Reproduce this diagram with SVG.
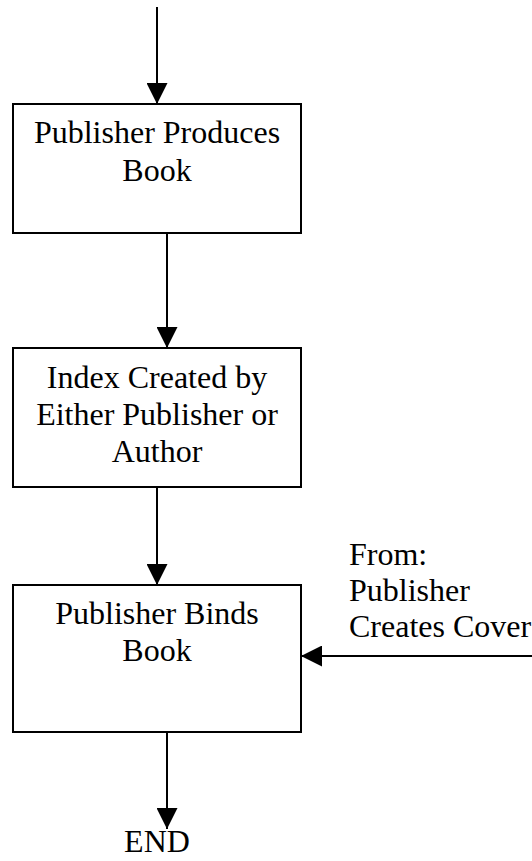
<svg xmlns="http://www.w3.org/2000/svg" width="532" height="861" viewBox="0 0 532 861">
  <style>
    .box { fill: #ffffff; stroke: #000000; stroke-width: 2; }
    .edge { fill: none; stroke: #000000; stroke-width: 2; marker-end: url(#arrow); }
    text { font-family: "Liberation Serif", "Times New Roman", serif; font-size: 32px; fill: #000000; }
    .c { text-anchor: middle; }
  </style>
  <defs>
    <marker id="arrow" markerUnits="userSpaceOnUse" markerWidth="21" markerHeight="21" viewBox="0 0 21 21" refX="21" refY="10.5" orient="auto">
      <path d="M0,0 L21,10.5 L0,21 Z" fill="#000000"/>
    </marker>
  </defs>

  <rect width="532" height="861" fill="#ffffff"/>

  <!-- connectors -->
  <g id="connectors">
    <line class="edge" x1="157" y1="7" x2="157" y2="104"/>
    <line class="edge" x1="167" y1="233" x2="167" y2="348"/>
    <line class="edge" x1="157" y1="487" x2="157" y2="585"/>
    <line class="edge" x1="167" y1="732" x2="167" y2="829"/>
    <line class="edge" x1="532" y1="656" x2="301" y2="656"/>
  </g>

  <!-- process steps -->
  <g id="produces">
    <rect class="box" x="13" y="104" width="288" height="129"/>
    <text class="c" x="157" y="143">Publisher Produces</text>
    <text class="c" x="157" y="181">Book</text>
  </g>

  <g id="index">
    <rect class="box" x="13" y="348" width="288" height="139"/>
    <text class="c" x="157" y="388">Index Created by</text>
    <text class="c" x="157" y="425">Either Publisher or</text>
    <text class="c" x="157" y="462">Author</text>
  </g>

  <g id="binds">
    <rect class="box" x="13" y="585" width="288" height="147"/>
    <text class="c" x="157" y="624">Publisher Binds</text>
    <text class="c" x="157" y="661">Book</text>
  </g>

  <g id="end">
    <text class="c" x="157" y="852">END</text>
  </g>

  <g id="cover-label">
    <text x="349" y="565">From:</text>
    <text x="349" y="601">Publisher</text>
    <text x="349" y="637">Creates Cover</text>
  </g>
</svg>
